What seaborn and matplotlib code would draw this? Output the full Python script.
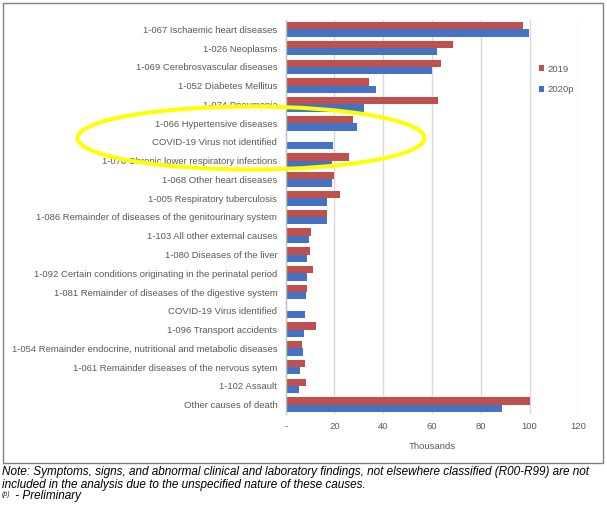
import numpy as np
import pandas as pd
import matplotlib
matplotlib.use("Agg")
import matplotlib.pyplot as plt
import seaborn as sns
from matplotlib.patches import Ellipse, Rectangle

categories = [
    "1-067 Ischaemic heart diseases",
    "1-026 Neoplasms",
    "1-069 Cerebrosvascular diseases",
    "1-052 Diabetes Mellitus",
    "1-074 Pneumonia",
    "1-066 Hypertensive diseases",
    "COVID-19 Virus not identified",
    "1-070 Chronic lower respiratory infections",
    "1-068 Other heart diseases",
    "1-005 Respiratory tuberculosis",
    "1-086 Remainder of diseases of the genitourinary system",
    "1-103 All other external causes",
    "1-080 Diseases of the liver",
    "1-092 Certain conditions originating in the perinatal period",
    "1-081 Remainder of diseases of the digestive system",
    "COVID-19 Virus identified",
    "1-096 Transport accidents",
    "1-054 Remainder endocrine, nutritional and metabolic diseases",
    "1-061 Remainder diseases of the nervous sytem",
    "1-102 Assault",
    "Other causes of death",
]
v2019 = [97.5, 68.5, 63.5, 34.3, 62.6, 27.4, 0.0, 26.1, 20.0, 22.3, 17.0,
         10.5, 10.0, 11.1, 8.9, 0.0, 12.6, 6.7, 7.8, 8.5, 100.2]
v2020 = [99.7, 62.2, 59.8, 37.1, 32.3, 29.3, 19.6, 19.1, 19.0, 17.1, 17.0,
         9.6, 8.9, 8.9, 8.5, 7.8, 7.6, 7.0, 5.9, 5.5, 88.7]
series = ["2019", "2020p"]
xticks = [0, 20, 40, 60, 80, 100, 120]
xticklabels = ["-", "20", "40", "60", "80", "100", "120"]

df = pd.DataFrame({
    "cause": categories * 2,
    "value": v2019 + v2020,
    "year": [series[0]] * len(categories) + [series[1]] * len(categories),
})

sns.set_theme(style="white")
plt.rcParams["font.family"] = ["Liberation Sans", "DejaVu Sans"]

W, H = 607, 528
fig = plt.figure(figsize=(W / 100, H / 100), dpi=100)
ax = fig.add_axes([285.7 / W, 1 - 414 / H, (578.3 - 285.7) / W, (414 - 20) / H])

sns.barplot(data=df, y="cause", x="value", hue="year", orient="h",
            palette=["#C0504D", "#4472C4"], width=0.78, linewidth=0,
            saturation=1, ax=ax)

ax.set_xlim(0, 120)
ax.set_xticks(xticks)
ax.set_xticklabels(xticklabels)
ax.grid(axis="x", color="#d9d9d9", linewidth=1)
ax.set_axisbelow(True)
for s in ["top", "right", "bottom"]:
    ax.spines[s].set_visible(False)
ax.spines["left"].set_color("#bfbfbf")
ax.spines["left"].set_linewidth(1)
ax.tick_params(axis="x", length=0, labelsize=6.8, labelcolor="#595959", pad=6)
ax.tick_params(axis="y", length=0, labelsize=6.8, labelcolor="#595959", pad=6)
ax.set_ylabel("")
ax.set_xlabel("Thousands", fontsize=6.8, color="#595959", labelpad=8)

handles, labels = ax.get_legend_handles_labels()
ax.legend(handles, labels, loc="upper left",
          bbox_to_anchor=(538.5 / W, 1 - 64.5 / H), bbox_transform=fig.transFigure,
          frameon=False, fontsize=6.8, handlelength=0.6, handleheight=0.6,
          handletextpad=0.3, labelspacing=1.25, borderpad=0, borderaxespad=0,
          labelcolor="#595959")

# outer border
fig.add_artist(Rectangle((2.5 / W, 1 - 462.7 / H), (603.3 - 2.5) / W, (462.7 - 2.5) / H,
                         transform=fig.transFigure, fill=False,
                         edgecolor="#808080", linewidth=1))

# yellow highlight ellipse
fig.add_artist(Ellipse((251 / W, 1 - 138 / H), 347 / W, 63 / H,
                       transform=fig.transFigure, fill=False,
                       edgecolor="#FFFF00", linewidth=2.9, zorder=10))

note_kw = dict(fontsize=8.5, style="italic", color="black", va="baseline", ha="left")
fig.text(2 / W, 1 - 475.5 / H,
         "Note: Symptoms, signs, and abnormal clinical and laboratory findings, not elsewhere classified (R00-R99) are not",
         **note_kw)
fig.text(2 / W, 1 - 488 / H,
         "included in the analysis due to the unspecified nature of these causes.",
         **note_kw)
fig.text(2 / W, 1 - 496.5 / H, "(p)", fontsize=5, style="italic", va="baseline", ha="left")
fig.text(12 / W, 1 - 499.5 / H, " - Preliminary", **note_kw)

fig.savefig("out.png", dpi=100)
